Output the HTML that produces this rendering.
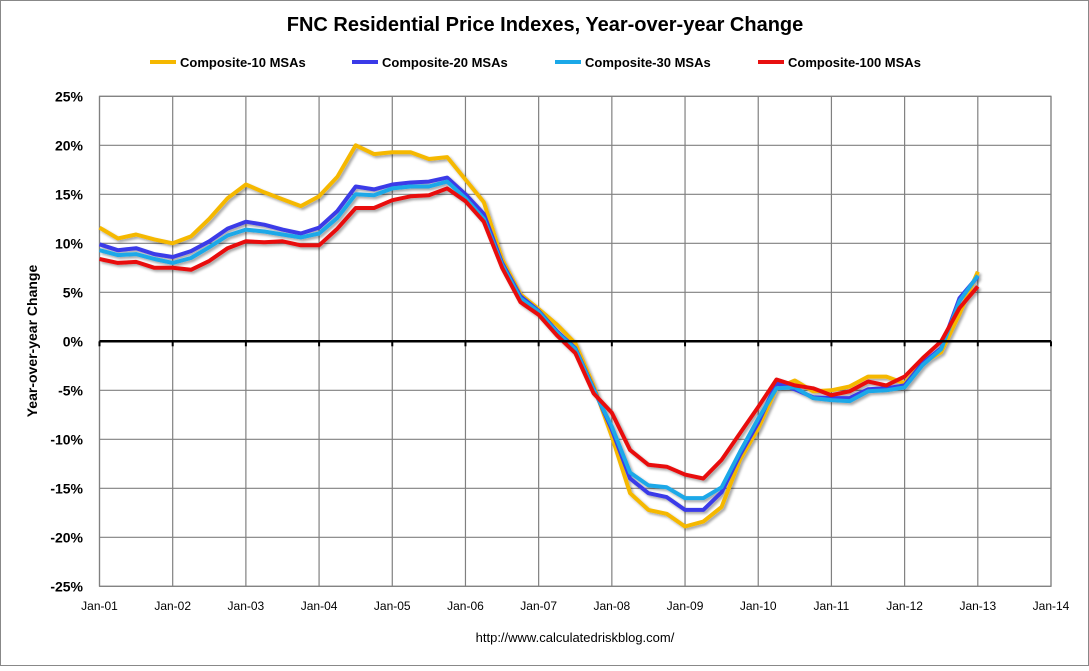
<!DOCTYPE html>
<html><head><meta charset="utf-8"><style>
body{margin:0;background:#fff;font-family:"Liberation Sans",sans-serif}
</style></head><body>
<svg width="1089" height="666" xmlns="http://www.w3.org/2000/svg" font-family="Liberation Sans, sans-serif">
<defs><filter id="sh" x="-5%" y="-5%" width="110%" height="110%"><feDropShadow dx="2" dy="2" stdDeviation="1.2" flood-color="#000" flood-opacity="0.35"/></filter></defs>
<rect x="0.5" y="0.5" width="1088" height="665" fill="#fff" stroke="#888"/>
<text x="545" y="31" text-anchor="middle" font-size="20" font-weight="bold" fill="#000">FNC Residential Price Indexes, Year-over-year Change</text>
<g id="legend"></g>
<g id="grid"></g>
<g id="series" filter="url(#sh)"></g>
<g id="axes"></g>
<text x="37" y="341" text-anchor="middle" font-size="14" font-weight="bold" transform="rotate(-90 37 341)">Year-over-year Change</text>
<text x="575" y="642" text-anchor="middle" font-size="13">http://www.calculatedriskblog.com/</text>
</svg>
<script>
const xLabels=["Jan-01","Jan-02","Jan-03","Jan-04","Jan-05","Jan-06","Jan-07","Jan-08","Jan-09","Jan-10","Jan-11","Jan-12","Jan-13","Jan-14"];
const yTicks=[25,20,15,10,5,0,-5,-10,-15,-20,-25];
const seriesNames=["Composite-10 MSAs","Composite-20 MSAs","Composite-30 MSAs","Composite-100 MSAs"];
const seriesColors=["#f5b800","#3a3ae8","#1aa8e8","#e81010"];
// quarterly values starting Jan-01
const comp10=[11.6,10.5,10.9,10.4,10.0,10.7,12.5,14.6,16.0,15.2,14.5,13.8,14.8,16.8,20.0,19.1,19.3,19.3,18.6,18.8,16.5,14.2,8.4,4.8,3.3,1.7,-0.2,-4.5,-9.7,-15.5,-17.2,-17.6,-18.9,-18.4,-16.9,-12.1,-8.9,-4.8,-4.0,-5.1,-5.0,-4.6,-3.6,-3.6,-4.3,-2.2,-1.1,2.8,7.1];
const comp20=[9.9,9.3,9.5,8.9,8.6,9.2,10.2,11.5,12.2,11.9,11.4,11.0,11.6,13.3,15.8,15.5,16.0,16.2,16.3,16.7,15.0,13.0,8.0,4.6,3.1,1.0,-0.7,-4.8,-9.0,-14.0,-15.5,-15.9,-17.2,-17.2,-15.4,-11.6,-8.3,-4.3,-4.9,-5.7,-5.8,-5.8,-4.9,-4.8,-4.5,-2.2,-0.7,4.4,6.6];
const comp30=[9.3,8.8,8.9,8.4,8.0,8.5,9.6,10.8,11.4,11.2,10.9,10.6,11.0,12.6,15.0,14.9,15.6,15.8,15.8,16.3,14.6,12.5,7.8,4.4,3.0,0.9,-0.8,-4.9,-8.7,-13.4,-14.7,-14.9,-16.0,-16.0,-14.9,-11.3,-7.9,-4.8,-4.7,-5.8,-6.0,-6.1,-5.1,-5.0,-4.7,-2.4,-0.8,4.1,6.7];
const comp100=[8.4,8.0,8.1,7.5,7.5,7.3,8.2,9.5,10.2,10.1,10.2,9.8,9.8,11.5,13.6,13.6,14.4,14.8,14.9,15.6,14.3,12.2,7.5,4.0,2.7,0.6,-1.2,-5.3,-7.3,-11.1,-12.6,-12.8,-13.6,-14.0,-12.1,-9.4,-6.7,-3.9,-4.5,-4.8,-5.5,-5.1,-4.1,-4.5,-3.6,-1.7,0.0,3.4,5.6];
const NS="http://www.w3.org/2000/svg";
const X0=99.5,X1=1051,Y0=96.3,Y1=586.3;
const xs=t=>X0+(X1-X0)*t/13;
const ys=v=>Y0+(Y1-Y0)*(25-v)/50;
function mk(tag,attrs,parent){const e=document.createElementNS(NS,tag);for(const k in attrs)e.setAttribute(k,attrs[k]);parent.appendChild(e);return e;}
const grid=document.getElementById('grid'),axes=document.getElementById('axes'),ser=document.getElementById('series'),leg=document.getElementById('legend');
mk('rect',{x:X0,y:Y0,width:X1-X0,height:Y1-Y0,fill:'none',stroke:'#808080','stroke-width':1.2},grid);
yTicks.forEach(v=>{
 const l=mk('line',{x1:X0,x2:X1,y1:ys(v),y2:ys(v),stroke:'#808080','stroke-width':1.2},grid);
 
 
 const t=mk('text',{x:83,y:ys(v)+5,'text-anchor':'end','font-size':14,'font-weight':'bold'},axes);
 t.textContent=v+'%';
 
 
});
xLabels.forEach((s,i)=>{
 const l=mk('line',{x1:xs(i),x2:xs(i),y1:Y0,y2:Y1,stroke:'#808080','stroke-width':1.2},grid);
 
 
 const tk=mk('line',{x1:xs(i),x2:xs(i),y1:ys(0),y2:ys(0)+5,stroke:'#000','stroke-width':2},axes);
 
 
 const t=mk('text',{x:xs(i),y:610,'text-anchor':'middle','font-size':12},axes);
 t.textContent=s;
 
 
});
const zl=mk('line',{x1:X0,x2:X1,y1:ys(0),y2:ys(0),stroke:'#000','stroke-width':2.5},axes);


[comp10,comp20,comp30,comp100].forEach((arr,si)=>{
 const d=arr.map((v,i)=>(i?'L':'M')+xs(i*0.25).toFixed(1)+','+ys(v).toFixed(1)).join('');
 const p=mk('path',{d:d,fill:'none',stroke:seriesColors[si],'stroke-width':4,'stroke-linejoin':'round'},ser);
 
 
});
const legX=[150,352,555,758];
seriesNames.forEach((n,i)=>{
 const l=mk('line',{x1:legX[i],x2:legX[i]+26,y1:62,y2:62,stroke:seriesColors[i],'stroke-width':4},leg);
 
 
 const t=mk('text',{x:legX[i]+30,y:67,'font-size':13,'font-weight':'bold'},leg);
 t.textContent=n;
 
 
});
</script>
</body></html>
